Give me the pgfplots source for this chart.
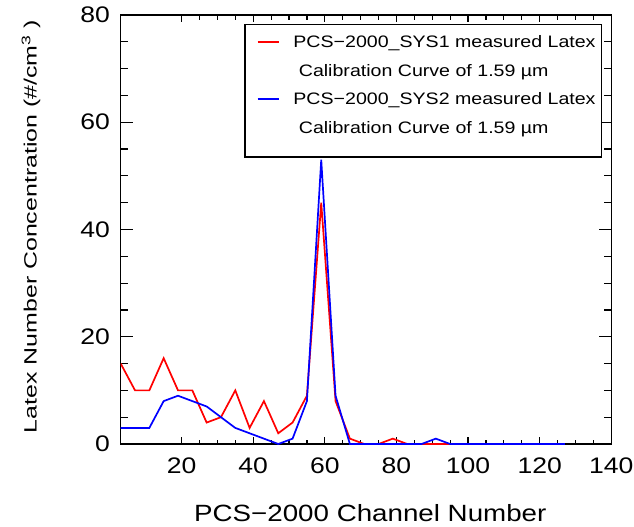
\documentclass[border=0pt]{standalone}
\usepackage{pgfplots}
\pgfplotsset{compat=1.18}
\usepackage{fontspec}
\setmainfont{Liberation Sans}[FakeStretch=1.18]
\newfontfamily\ylabfont{Liberation Sans}[FakeStretch=1.4]

\pgfplotstableread{
x red blue
3 15 3
7 10 3
11 10 3
15 16 8
19 10 9
23 10 8
27 4 7
31 5 5
35 10 3
39 3 2
43 8 1
47 2 0
51 4 1
55 9 8
59 45 53
63 8 9
67 1 0
71 0 0
75 0 0
79 1 0
83 0 0
87 0 0
91 0 1
95 0 0
99 0 0
103 0 0
107 0 0
111 0 0
115 0 0
119 0 0
123 0 0
127 0 0
}\datatable

\begin{document}
\begin{tikzpicture}
\useasboundingbox (-120.7bp,-83bp) rectangle (513.3bp,444bp);
\begin{axis}[
  at={(0,0)}, anchor=south west,
  scale only axis, width=490.6bp, height=429bp,
  xmin=3, xmax=140, ymin=0, ymax=80,
  xtick={20,40,...,140}, ytick={0,20,...,80},
  minor x tick num=3, minor y tick num=3,
  tick align=inside,
  major tick length=12bp, minor tick length=7bp,
  xtick style={/pgfplots/major tick length=7bp, /pgfplots/minor tick length=4.5bp},
  axis line style={line width=1.5bp, black},
  every tick/.append style={black, line width=1.2bp},
  /pgf/number format/assume math mode=true,
  tick label style={font=\fontsize{22.5bp}{27bp}\selectfont},
  xticklabel style={anchor=north, inner sep=0pt, yshift=-14bp},
  yticklabel style={anchor=east, inner sep=0pt, xshift=-10.7bp},
  xlabel={PCS−2000 Channel Number},
  xlabel style={font=\fontsize{23.5bp}{28bp}\selectfont, at={(axis description cs:0.5088,-0.1811)}, anchor=base},
  ylabel={Latex Number Concentration (\#/cm\textsuperscript{3} )},
  ylabel style={font=\ylabfont\fontsize{17.8bp}{21bp}\selectfont, at={(axis description cs:-0.1828,0.507)}, anchor=center},
  legend style={at={(rel axis cs:0.2534,0.9783)}, anchor=north west, draw=black, line width=1.5bp,
    outer sep=0pt, inner xsep=6bp, inner ysep=11.4bp, fill=white,
    font=\fontsize{16.6bp}{20bp}\selectfont,
    cells={anchor=base west},
    nodes={inner sep=0pt, text height=12bp, text depth=0.2bp},
    row sep=16.1bp, column sep=13.4bp},
  legend image code/.code={\path (0bp,0bp); \draw[#1] (5.7bp,5.9bp) -- (27.3bp,5.9bp);},
]
\addplot[red, line width=1.7bp] table[x=x, y=red] {\datatable};
\addlegendentry{PCS−2000\_SYS1 measured Latex}
\addlegendimage{empty legend}
\addlegendentry{\ Calibration Curve of 1.59 µm}
\addplot[blue, line width=1.7bp] table[x=x, y=blue] {\datatable};
\addlegendentry{PCS−2000\_SYS2 measured Latex}
\addlegendimage{empty legend}
\addlegendentry[text depth=11.7bp]{\ Calibration Curve of 1.59 µm}
\end{axis}
\end{tikzpicture}
\end{document}
